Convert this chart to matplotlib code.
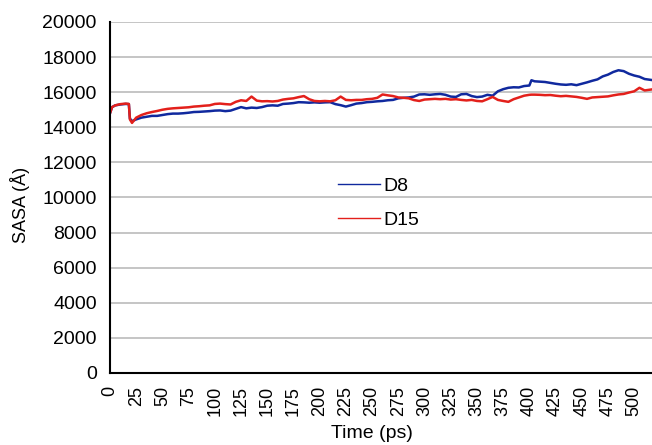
import matplotlib
matplotlib.use("Agg")
import matplotlib.pyplot as plt

plt.rcParams['font.family'] = ['Liberation Sans', 'DejaVu Sans']

# time (ps) and SASA values
t_d8 = [0, 2, 5, 10, 15, 18, 19, 21, 25, 30, 35, 40, 45, 50, 55, 60, 65, 70, 75, 80,
        85, 90, 95, 100, 105, 110, 115, 120, 125, 130, 135, 140, 145, 150, 155, 160,
        165, 170, 175, 180, 185, 190, 195, 200, 205, 210, 215, 220, 225, 230, 235,
        240, 245, 250, 255, 260, 265, 270, 275, 280, 285, 290, 295, 300, 305, 310,
        315, 320, 325, 330, 335, 340, 345, 350, 355, 360, 365, 370, 375, 380, 385,
        390, 395, 400, 402, 405, 410, 415, 420, 425, 430, 435, 440, 445, 450, 455,
        460, 465, 470, 475, 480, 485, 490, 495, 500, 505, 510, 516]
d8 = [14800, 15150, 15250, 15300, 15330, 15320, 14500, 14350, 14450, 14550, 14600,
      14650, 14650, 14700, 14750, 14780, 14780, 14800, 14830, 14870, 14880, 14900,
      14920, 14950, 14960, 14920, 14950, 15050, 15150, 15080, 15120, 15100, 15150,
      15230, 15250, 15230, 15330, 15350, 15380, 15430, 15420, 15400, 15420, 15400,
      15420, 15430, 15320, 15260, 15180, 15260, 15350, 15380, 15430, 15450, 15480,
      15500, 15540, 15560, 15650, 15680, 15700, 15750, 15870, 15880, 15850, 15880,
      15900, 15850, 15750, 15730, 15880, 15900, 15780, 15720, 15750, 15850, 15800,
      16050, 16170, 16250, 16280, 16270, 16350, 16380, 16680, 16620, 16600, 16580,
      16530, 16480, 16440, 16420, 16450, 16400, 16480, 16560, 16650, 16730, 16900,
      17000, 17150, 17250, 17200, 17050, 16950, 16880, 16750, 16700]

t_d15 = t_d8
d15 = [14800, 15150, 15250, 15320, 15350, 15330, 14450, 14250, 14550, 14700, 14800,
       14870, 14930, 15000, 15050, 15080, 15100, 15120, 15140, 15180, 15200, 15230,
       15250, 15330, 15350, 15320, 15300, 15450, 15540, 15500, 15750, 15520, 15480,
       15490, 15470, 15500, 15580, 15620, 15650, 15720, 15780, 15600, 15500, 15480,
       15500, 15480, 15540, 15750, 15560, 15540, 15560, 15560, 15600, 15620, 15680,
       15870, 15820, 15780, 15700, 15680, 15650, 15550, 15500, 15580, 15600, 15620,
       15600, 15620, 15580, 15600, 15560, 15530, 15560, 15500, 15480, 15600, 15730,
       15560, 15500, 15450, 15600, 15700, 15800, 15850, 15860, 15860, 15850, 15830,
       15840, 15800, 15770, 15790, 15760, 15730, 15680, 15620, 15700, 15720, 15740,
       15760, 15820, 15870, 15900, 15980, 16050, 16250, 16100, 16150]

x_ticks = list(range(0, 501, 25))
y_ticks = list(range(0, 20001, 2000))

fig = plt.figure(figsize=(6.52, 4.45), dpi=100)
ax = fig.add_axes([0.1687, 0.1618, 0.8313, 0.7888])

ax.plot(t_d8, d8, color='#10299e', lw=1.8, label='D8')
ax.plot(t_d15, d15, color='#e3201b', lw=1.8, label='D15')

ax.set_xlim(0, 517)
ax.set_ylim(0, 20000)
ax.set_xticks(x_ticks)
ax.set_xticklabels([str(v) for v in x_ticks], rotation=90)
ax.set_yticks(y_ticks)
ax.tick_params(length=0, pad=9.5)
ax.tick_params(axis='x', labelsize=13)
ax.tick_params(axis='y', labelsize=14)
ax.yaxis.grid(True, color='#c0c0c0', lw=1.3)
ax.set_axisbelow(True)
for s in ['top', 'right']:
    ax.spines[s].set_visible(False)
for s in ['left', 'bottom']:
    ax.spines[s].set_linewidth(1.5)
    ax.spines[s].set_color('black')

ax.set_xlabel('Time (ps)', fontsize=14)
ax.xaxis.set_label_coords(0.483, -0.148)
ax.set_ylabel('SASA (Å)', fontsize=13)
ax.yaxis.set_label_coords(-0.147, 0.48)

leg = ax.legend(loc='center left', bbox_to_anchor=(0.4207, 0.4843), frameon=False,
                fontsize=14, handlelength=2.16, handletextpad=0.15, labelspacing=0.85,
                borderpad=0, borderaxespad=0)
for h in leg.get_lines():
    h.set_linewidth(1.0)

fig.savefig('out.png', dpi=100)
